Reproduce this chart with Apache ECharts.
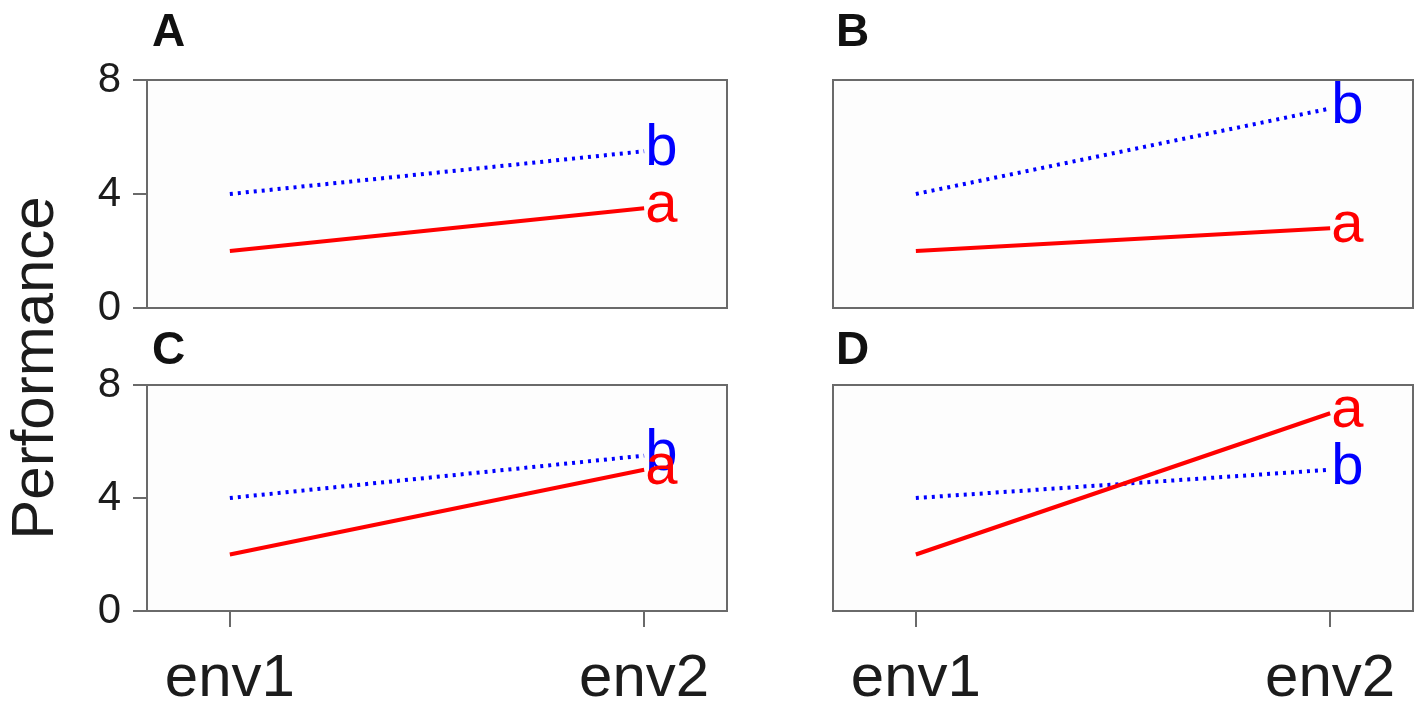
<!DOCTYPE html>
<html>
<head>
<meta charset="utf-8">
<title>Performance by environment</title>
<script src="https://cdn.jsdelivr.net/npm/echarts@6/dist/echarts.min.js"></script>
<style>
  html, body { margin: 0; padding: 0; background: #ffffff; }
  #chart { width: 1416px; height: 709px; }
</style>
</head>
<body>
<div id="chart"></div>
<script>
// Environments on the x axis
const categories = ['env1', 'env2'];
// Panel letters
const panelLetters = ['A', 'B', 'C', 'D'];
// Y axis ticks
const yTicks = [0, 4, 8];

// Performance of genotype a and b in each panel (env1, env2)
const panelA_a = [2, 3.5];
const panelA_b = [4, 5.5];
const panelB_a = [2, 2.8];
const panelB_b = [4, 7];
const panelC_a = [2, 5];
const panelC_b = [4, 5.5];
const panelD_a = [2, 7];
const panelD_b = [4, 5];

const panelData = [
  { a: panelA_a, b: panelA_b },
  { a: panelB_a, b: panelB_b },
  { a: panelC_a, b: panelC_b },
  { a: panelD_a, b: panelD_b }
];

const xPositions = categories.map((c, i) => i + 1);
const toPoints = vals => vals.map((v, i) => [xPositions[i], v]);

const gridBoxes = [
  { left: 147, top: 80, width: 580, height: 228 },
  { left: 833, top: 80, width: 580, height: 228 },
  { left: 147, top: 385, width: 580, height: 229 },
  { left: 833, top: 385, width: 580, height: 229 }
];

const axisGray = '#6a6a6a';
const textColor = '#1c1c1c';
const fontFamily = 'Liberation Sans, Arial, Helvetica, sans-serif';

const grids = gridBoxes.map(b => Object.assign({
  show: true,
  borderColor: axisGray,
  borderWidth: 2,
  backgroundColor: '#fdfdfd'
}, b));

const xAxes = gridBoxes.map((b, i) => {
  const bottomRow = i >= 2;
  return {
    gridIndex: i,
    type: 'value',
    min: 0.8,
    max: 2.2,
    splitLine: { show: false },
    axisLine: { show: true, lineStyle: { color: axisGray, width: 2 } },
    axisTick: {
      show: bottomRow,
      customValues: xPositions,
      length: 16,
      inside: false,
      lineStyle: { color: axisGray, width: 2 }
    },
    axisLabel: {
      show: bottomRow,
      customValues: xPositions,
      formatter: v => categories[Math.round(v) - 1] || '',
      fontSize: 60,
      fontFamily: fontFamily,
      color: textColor,
      margin: 38
    }
  };
});

const yAxes = gridBoxes.map((b, i) => {
  const leftCol = i % 2 === 0;
  return {
    gridIndex: i,
    type: 'value',
    min: yTicks[0],
    max: yTicks[yTicks.length - 1],
    interval: yTicks[1] - yTicks[0],
    splitLine: { show: false },
    axisLine: { show: true, lineStyle: { color: axisGray, width: 2 } },
    axisTick: {
      show: leftCol,
      length: 14,
      lineStyle: { color: axisGray, width: 2 }
    },
    axisLabel: {
      show: leftCol,
      fontSize: 42,
      fontFamily: fontFamily,
      color: textColor,
      margin: 26
    }
  };
});

const series = [];
panelData.forEach((pd, i) => {
  series.push({
    name: 'b',
    type: 'line',
    xAxisIndex: i,
    yAxisIndex: i,
    data: toPoints(pd.b),
    showSymbol: false,
    symbol: 'none',
    lineStyle: { color: '#0000ff', width: 4, type: [3, 5], cap: 'butt' },
    endLabel: {
      show: true,
      formatter: '{a}',
      color: '#0000ff',
      fontSize: 58,
      fontFamily: fontFamily,
      distance: 1,
      offset: [0, -2]
    },
    silent: true,
    animation: false
  });
  series.push({
    name: 'a',
    type: 'line',
    xAxisIndex: i,
    yAxisIndex: i,
    data: toPoints(pd.a),
    showSymbol: false,
    symbol: 'none',
    lineStyle: { color: '#ff0000', width: 4 },
    endLabel: {
      show: true,
      formatter: '{a}',
      color: '#ff0000',
      fontSize: 58,
      fontFamily: fontFamily,
      distance: 1,
      offset: [0, -2]
    },
    silent: true,
    animation: false
  });
});

const letterPos = [
  { left: 152, top: 10 },
  { left: 836, top: 10 },
  { left: 152, top: 328 },
  { left: 836, top: 328 }
];

const titles = panelLetters.map((t, i) => ({
  text: t,
  left: letterPos[i].left,
  top: letterPos[i].top,
  padding: 0,
  textStyle: {
    fontSize: 46,
    fontWeight: 'bold',
    fontFamily: fontFamily,
    color: '#111111'
  }
}));

const option = {
  backgroundColor: '#ffffff',
  animation: false,
  title: titles,
  grid: grids,
  xAxis: xAxes,
  yAxis: yAxes,
  series: series,
  graphic: [{
    type: 'text',
    x: 36,
    y: 368,
    rotation: Math.PI / 2,
    style: {
      text: 'Performance',
      fontSize: 60,
      fontFamily: fontFamily,
      fill: textColor,
      align: 'center',
      verticalAlign: 'middle'
    }
  }]
};

const chart = echarts.init(document.getElementById('chart'), null, { renderer: 'canvas' });
chart.setOption(option);
</script>
</body>
</html>
